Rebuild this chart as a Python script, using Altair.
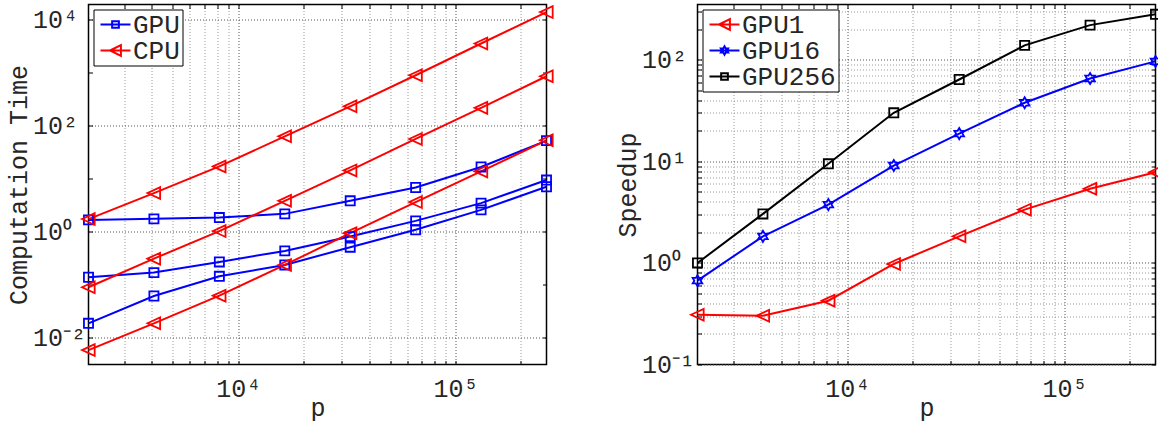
import altair as alt
import pandas as pd

# ---------------- data ----------------
P = [2048, 4096, 8192, 16384, 32768, 65536, 131072, 262144]

GPU_A = [1.66, 1.74, 1.84, 2.16, 3.81, 6.80, 16.6, 52.1]
GPU_B = [0.137, 0.168, 0.267, 0.431, 0.804, 1.59, 3.45, 9.40]
GPU_C = [0.0185, 0.0607, 0.143, 0.234, 0.507, 1.08, 2.57, 7.02]
CPU_A = [1.72, 5.33, 17.0, 62.9, 232, 897, 3570, 13970]
CPU_B = [0.0886, 0.308, 1.02, 3.81, 14.3, 56.1, 217, 859]
CPU_C = [0.00577, 0.0185, 0.0615, 0.234, 0.933, 3.60, 13.7, 52.8]

SP_GPU1 = [0.309, 0.302, 0.425, 0.977, 1.83, 3.35, 5.37, 7.82]
SP_GPU16 = [0.669, 1.83, 3.76, 9.11, 18.8, 37.8, 65.6, 96.6]
SP_GPU256 = [1.0, 3.04, 9.47, 30.1, 64.1, 139, 220, 281]

LEFT_GROUPS = ["GPU", "CPU"]
RIGHT_GROUPS = ["GPU1", "GPU16", "GPU256"]

X_VALUES = [3000, 4000, 5000, 6000, 7000, 8000, 9000,
            10000, 20000, 30000, 40000, 50000, 60000, 70000, 80000, 90000,
            100000, 200000]
X_LABELS = [(10000, "10⁴"), (100000, "10⁵")]

LY_GRID = [0.01, 1, 100, 10000]
LY_TICKS = [0.01, 0.1, 1, 10, 100, 1000, 10000]
LY_LABELS = [(0.01, "10⁻²"), (1, "10⁰"), (100, "10²"), (10000, "10⁴")]

RY_GRID = [0.1, 0.2, 0.3, 0.4, 0.5, 0.6, 0.7, 0.8, 0.9,
           1, 2, 3, 4, 5, 6, 7, 8, 9,
           10, 20, 30, 40, 50, 60, 70, 80, 90,
           100, 200, 300]
RY_LABELS = [(0.1, "10⁻¹"), (1, "10⁰"), (10, "10¹"), (100, "10²")]
RY_MAJOR = [0.1, 1, 10, 100]

# ---------------- style ----------------
FONT = "Liberation Mono"
TXT = "#262626"
W, H = 458, 360
X_DOMAIN = [2048, 262144]
LY_DOMAIN = [0.003083, 19454]
RY_DOMAIN = [0.1, 351]

SQ = "M-0.7,-0.7H0.7V0.7H-0.7Z"
TRI = "M-1,0L0.95,-0.9L0.95,0.9Z"
HEX = ("M0,-0.85L0.245,-0.425L0.736,-0.425L0.49,0L0.736,0.425L0.245,0.425"
       "L0,0.85L-0.245,0.425L-0.736,0.425L-0.49,0L-0.736,-0.425L-0.245,-0.425Z")
LN = "M-1.25,0H1.25"
L_SQ = LN + "M-0.28,-0.28H0.28V0.28H-0.28Z"
L_TRI = LN + "M-0.45,0L0.45,-0.45L0.45,0.45Z"
L_HEX = LN + ("M0,-0.35L0.101,-0.175L0.303,-0.175L0.202,0L0.303,0.175L0.101,0.175"
              "L0,0.35L-0.101,0.175L-0.303,0.175L-0.202,0L-0.303,-0.175L-0.101,-0.175Z")


def to_df(series):
    rows = []
    for name, grp, vals in series:
        for p, v in zip(P, vals):
            rows.append({"p": p, "v": v, "series": name, "grp": grp, "lg": grp})
    return pd.DataFrame(rows)


def label_expr(pairs):
    expr = ""
    for val, txt in pairs:
        expr += f"datum.value == {val} ? '{txt}' : "
    return expr + "''"


def grid_color(majors):
    test = " || ".join(f"datum.value == {m}" for m in majors)
    return {"condition": {"test": test, "value": "#555555"}, "value": "#9a9a9a"}


def tick_axis(orient, offset, values):
    return alt.Axis(orient=orient, offset=offset, values=values, labels=False,
                    grid=False, domain=False, ticks=True, tickSize=4,
                    tickColor="black", tickWidth=1, title=None)


def panel(df, ydom, ygrid, ymajor, ylabels, yticks, ytitle, dom, colors, shapes, lshapes):
    xs = alt.Scale(type="log", domain=X_DOMAIN, nice=False, zero=False)
    ys = alt.Scale(type="log", domain=ydom, nice=False, zero=False)

    x_main = alt.X("p:Q", scale=xs, axis=alt.Axis(
        orient="bottom", values=X_VALUES, grid=True, gridDash=[1, 2],
        gridColor=grid_color([10000, 100000]), ticks=False, tickSize=0, domain=False,
        labelExpr=label_expr(X_LABELS), labelBaseline="alphabetic", labelPadding=32,
        labelOverlap=False, labelFlush=False, labelAlign="center",
        title="p", titleX=W / 2, titleY=51, titleBaseline="alphabetic", titleAlign="center"))
    y_main = alt.Y("v:Q", scale=ys, axis=alt.Axis(
        orient="left", values=ygrid, grid=True, gridDash=[1, 2],
        gridColor=grid_color(ymajor), ticks=False, tickSize=0, domain=False,
        labelExpr=label_expr(ylabels), labelAlign="left", labelBaseline="middle",
        labelPadding=56, labelOverlap=False, labelFlush=False,
        title=ytitle, titleX=-62, titleY=H / 2, titleBaseline="alphabetic",
        titleAlign="center", titleAngle=270))

    color = alt.Color("grp:N", scale=alt.Scale(domain=dom, range=colors), legend=None)

    lines = alt.Chart(df).mark_line(strokeWidth=2).encode(
        x=x_main, y=y_main, color=color, detail="series:N")

    pts = alt.Chart(df).mark_point(filled=False, size=169, strokeWidth=1.8, opacity=1).encode(
        x=alt.X("p:Q", scale=xs, axis=tick_axis("top", -H, X_VALUES)),
        y=alt.Y("v:Q", scale=ys, axis=tick_axis("right", -W, yticks)),
        color=color,
        shape=alt.Shape("grp:N", scale=alt.Scale(domain=dom, range=shapes), legend=None))

    leg = alt.Legend(title=None, orient="top-left", offset=5, padding=2,
                     strokeColor="black", fillColor="white", cornerRadius=0,
                     symbolOffset=7, labelOffset=4.5, symbolSize=576,
                     symbolStrokeWidth=2, symbolOpacity=1, rowPadding=0,
                     labelFont=FONT, labelFontSize=26, labelColor=TXT)
    legend_layer = alt.Chart(df).mark_point(filled=False, opacity=0, size=576).encode(
        x=alt.X("p:Q", scale=xs, axis=tick_axis("bottom", -H, X_VALUES)),
        y=alt.Y("v:Q", scale=ys, axis=tick_axis("left", -W, yticks)),
        color=alt.Color("lg:N", scale=alt.Scale(domain=dom, range=colors), legend=leg),
        shape=alt.Shape("lg:N", scale=alt.Scale(domain=dom, range=lshapes), legend=leg))

    return alt.layer(lines, pts, legend_layer).resolve_scale(
        color="independent", shape="independent").resolve_axis(
        x="independent", y="independent").properties(width=W, height=H)


left_df = to_df([("GPU-a", "GPU", GPU_A), ("GPU-b", "GPU", GPU_B), ("GPU-c", "GPU", GPU_C),
                 ("CPU-a", "CPU", CPU_A), ("CPU-b", "CPU", CPU_B), ("CPU-c", "CPU", CPU_C)])
right_df = to_df([("GPU1", "GPU1", SP_GPU1), ("GPU16", "GPU16", SP_GPU16),
                  ("GPU256", "GPU256", SP_GPU256)])

left = panel(left_df, LY_DOMAIN, LY_GRID, LY_GRID, LY_LABELS, LY_TICKS, "Computation Time",
             LEFT_GROUPS, ["#0000ff", "#ff0000"], [SQ, TRI], [L_SQ, L_TRI])
right = panel(right_df, RY_DOMAIN, RY_GRID, RY_MAJOR, RY_LABELS, RY_GRID, "Speedup",
              RIGHT_GROUPS, ["#ff0000", "#0000ff", "#000000"], [TRI, HEX, SQ],
              [L_TRI, L_HEX, L_SQ])

PAD_L, PAD_T = 88.5, 4.5
chart = alt.hconcat(left, right, spacing=151, bounds="flush").properties(
    autosize=alt.AutoSizeParams(type="none"),
    padding={"left": PAD_L, "top": PAD_T, "right": 1158 - PAD_L, "bottom": 426 - PAD_T},
    background="white",
).configure(font=FONT).configure_view(
    stroke="black", strokeWidth=1.5
).configure_axis(
    labelFont=FONT, titleFont=FONT, labelFontSize=25, titleFontSize=25,
    labelColor=TXT, titleColor=TXT, titleFontWeight="normal",
    gridOpacity=1, gridWidth=1
)

chart.save("out.html", embed_options={"renderer": "svg", "actions": False})
